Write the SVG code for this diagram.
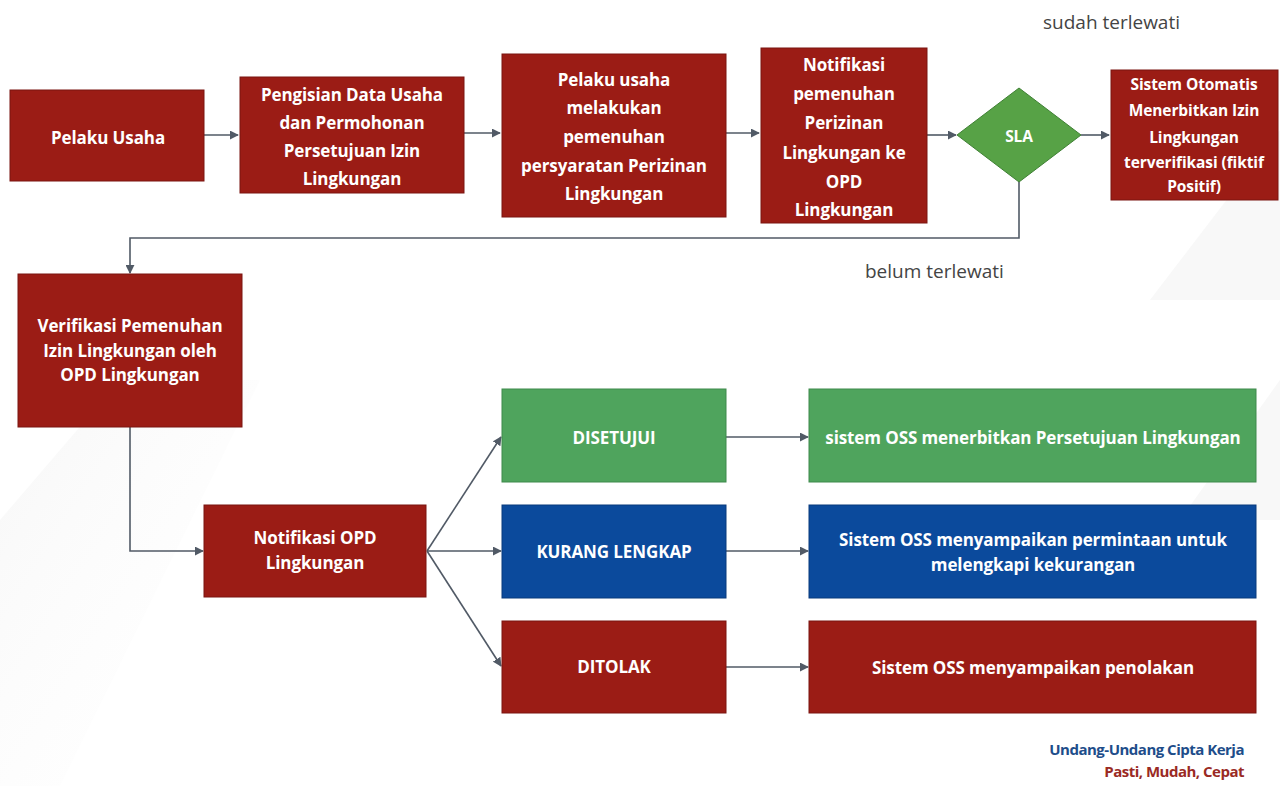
<svg xmlns="http://www.w3.org/2000/svg" width="1280" height="786" viewBox="0 0 1280 786">
<defs>
<marker id="ah" viewBox="0 0 10 10" refX="9" refY="5" markerWidth="9" markerHeight="9" markerUnits="userSpaceOnUse" orient="auto">
<path d="M0,0 L10,5 L0,10 z" fill="#515a66"/>
</marker>
<linearGradient id="bg1" x1="0" y1="0" x2="1" y2="1">
<stop offset="0" stop-color="#f1f1f1"/>
<stop offset="1" stop-color="#ffffff" stop-opacity="0"/>
</linearGradient>
</defs>
<style>
.red{fill:#9b1c15;stroke:#7a1510;stroke-width:1}
.grn{fill:#4fa45d;stroke:#3f8a4c;stroke-width:1}
.blu{fill:#0b4a9c;stroke:#083a7c;stroke-width:1}
.t{font-family:"Open Sans","Liberation Sans",sans-serif;font-weight:700;fill:#ffffff;text-anchor:middle;dominant-baseline:central;font-size:17px;letter-spacing:-0.1px}
.s{font-size:15.5px}
.lbl{font-family:"Open Sans","Liberation Sans",sans-serif;font-size:19px;fill:#444;}
.c{fill:none;stroke:#515a66;stroke-width:1.6}
.ca{fill:none;stroke:#515a66;stroke-width:1.6;marker-end:url(#ah)}
</style>
<rect width="1280" height="786" fill="#ffffff"/>
<g id="background" opacity="0.6">
<polygon points="0,520 120,380 260,380 60,786 0,786" fill="url(#bg1)"/>
<polygon points="1150,300 1280,130 1280,300" fill="#f4f4f4"/>
<polygon points="1180,520 1280,380 1280,520" fill="#f4f4f4"/>
</g>
<g id="connectors">
<line class="ca" x1="204" y1="135" x2="238" y2="135"/>
<line class="ca" x1="464" y1="133" x2="500" y2="133"/>
<line class="ca" x1="726" y1="133" x2="759" y2="133"/>
<line class="ca" x1="927" y1="135" x2="956" y2="135"/>
<line class="ca" x1="1081" y1="135" x2="1109" y2="135"/>
<polyline class="ca" points="1019,182 1019,238 130,238 130,273"/>
<polyline class="ca" points="130,427 130,551 203,551"/>
<line class="ca" x1="427" y1="551" x2="501" y2="437"/>
<line class="ca" x1="427" y1="551" x2="501" y2="551"/>
<line class="ca" x1="427" y1="551" x2="501" y2="666"/>
<line class="ca" x1="726" y1="437" x2="808" y2="437"/>
<line class="ca" x1="726" y1="551" x2="808" y2="551"/>
<line class="ca" x1="726" y1="667" x2="808" y2="667"/>
</g>
<g id="label-sudah"><text class="lbl" x="1043" y="29">sudah terlewati</text></g>
<g id="label-belum"><text class="lbl" x="865" y="278">belum terlewati</text></g>
<g id="n1"><rect class="red" x="10" y="90" width="194" height="91"/>
<text class="t" x="108" y="137">Pelaku Usaha</text></g>
<g id="n2"><rect class="red" x="240" y="77" width="224" height="116"/>
<text class="t" x="352" y="94">Pengisian Data Usaha</text>
<text class="t" x="352" y="122">dan Permohonan</text>
<text class="t" x="352" y="150">Persetujuan Izin</text>
<text class="t" x="352" y="178">Lingkungan</text></g>
<g id="n3"><rect class="red" x="502" y="54" width="224" height="163"/>
<text class="t" x="614" y="79">Pelaku usaha</text>
<text class="t" x="614" y="107">melakukan</text>
<text class="t" x="614" y="136">pemenuhan</text>
<text class="t" x="614" y="165">persyaratan Perizinan</text>
<text class="t" x="614" y="193">Lingkungan</text></g>
<g id="n4"><rect class="red" x="761" y="48" width="166" height="175"/>
<text class="t" x="844" y="64">Notifikasi</text>
<text class="t" x="844" y="93">pemenuhan</text>
<text class="t" x="844" y="122">Perizinan</text>
<text class="t" x="844" y="152">Lingkungan ke</text>
<text class="t" x="844" y="181">OPD</text>
<text class="t" x="844" y="209">Lingkungan</text></g>
<g id="sla"><polygon points="1019,88 1081,135 1019,182 957,135" fill="#57a246" stroke="#3f8034" stroke-width="1"/>
<text class="t s" x="1019" y="136">SLA</text></g>
<g id="n5"><rect class="red" x="1111" y="70" width="167" height="130"/>
<text class="t s" x="1194" y="84">Sistem Otomatis</text>
<text class="t s" x="1194" y="110">Menerbitkan Izin</text>
<text class="t s" x="1194" y="137">Lingkungan</text>
<text class="t s" x="1194" y="162">terverifikasi (fiktif</text>
<text class="t s" x="1194" y="186">Positif)</text></g>
<g id="n6"><rect class="red" x="18" y="274" width="224" height="153"/>
<text class="t" x="130" y="325">Verifikasi Pemenuhan</text>
<text class="t" x="130" y="350">Izin Lingkungan oleh</text>
<text class="t" x="130" y="374">OPD Lingkungan</text></g>
<g id="n7"><rect class="red" x="204" y="505" width="222" height="92"/>
<text class="t" x="315" y="537">Notifikasi OPD</text>
<text class="t" x="315" y="562">Lingkungan</text></g>
<g id="disetujui"><rect class="grn" x="502" y="389" width="224" height="93"/>
<text class="t" x="614" y="437">DISETUJUI</text></g>
<g id="kurang"><rect class="blu" x="502" y="505" width="224" height="93"/>
<text class="t" x="614" y="551">KURANG LENGKAP</text></g>
<g id="ditolak"><rect class="red" x="502" y="621" width="224" height="92"/>
<text class="t" x="614" y="666">DITOLAK</text></g>
<g id="r1"><rect class="grn" x="809" y="389" width="447" height="93"/>
<text class="t" x="1033" y="437">sistem OSS menerbitkan Persetujuan Lingkungan</text></g>
<g id="r2"><rect class="blu" x="809" y="505" width="447" height="93"/>
<text class="t" x="1033" y="539">Sistem OSS menyampaikan permintaan untuk</text>
<text class="t" x="1033" y="564">melengkapi kekurangan</text></g>
<g id="r3"><rect class="red" x="809" y="621" width="447" height="92"/>
<text class="t" x="1033" y="667">Sistem OSS menyampaikan penolakan</text></g>
<g id="footer">
<text x="1244" y="755" font-family="Open Sans, Liberation Sans Narrow, sans-serif" font-weight="700" font-size="15" fill="#1e4d8a" text-anchor="end" letter-spacing="-0.5">Undang-Undang Cipta Kerja</text>
<text x="1244" y="777" font-family="Open Sans, Liberation Sans Narrow, sans-serif" font-weight="700" font-size="15" fill="#9a2a24" text-anchor="end" letter-spacing="-0.5">Pasti, Mudah, Cepat</text>
</g>
</svg>
